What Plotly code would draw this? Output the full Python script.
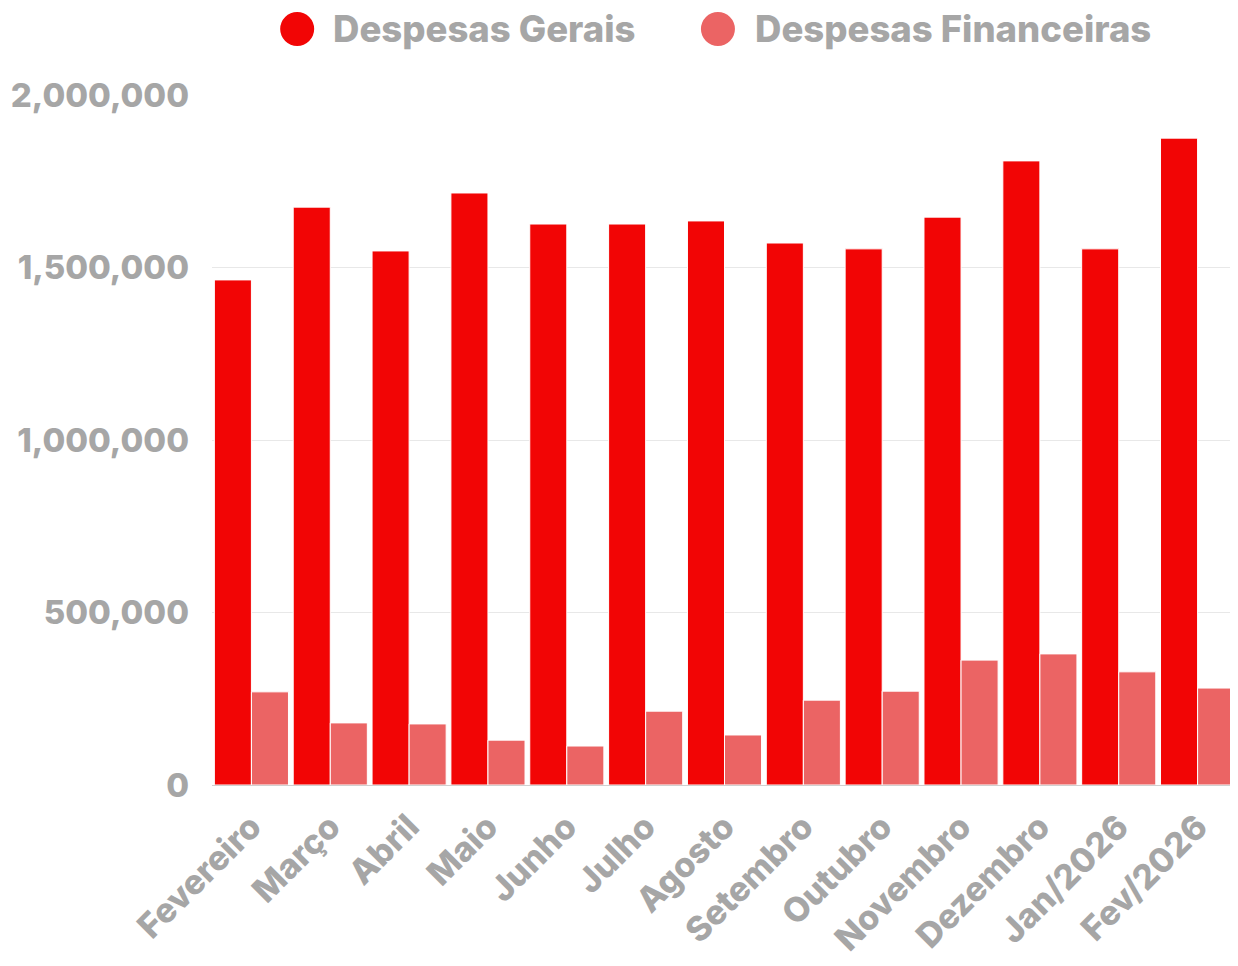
import plotly.graph_objects as go

categorias = ["Fevereiro", "Março", "Abril", "Maio", "Junho", "Julho", "Agosto",
              "Setembro", "Outubro", "Novembro", "Dezembro", "Jan/2026", "Fev/2026"]
despesas_gerais = [1464000, 1675000, 1548000, 1716000, 1626000, 1626000, 1635000,
                   1571000, 1554000, 1646000, 1809000, 1554000, 1875000]
despesas_financeiras = [270000, 180000, 177000, 130000, 113000, 214000, 145000,
                        246000, 272000, 362000, 380000, 328000, 281000]
series_nomes = ["Despesas Gerais", "Despesas Financeiras"]
y_ticks = [0, 500000, 1000000, 1500000, 2000000]

COR_GERAIS = "#F20505"
COR_FIN = "#EB6464"
CINZA = "#A6A6A6"
FONTE = "Inter"

fig = go.Figure()
fig.add_trace(go.Bar(x=categorias, y=despesas_gerais, name=series_nomes[0],
                     marker=dict(color=COR_GERAIS, line=dict(color="#ffffff", width=1)),
                     showlegend=False))
fig.add_trace(go.Bar(x=categorias, y=despesas_financeiras, name=series_nomes[1],
                     marker=dict(color=COR_FIN, line=dict(color="#ffffff", width=1)),
                     showlegend=False))

# custom legend (large circles)
legend_items = [(series_nomes[0], COR_GERAIS, 0.0831, 0.1163),
                (series_nomes[1], COR_FIN, 0.4936, 0.5279)]
ly = 1.0957
for nome, cor, cx, tx in legend_items:
    fig.add_shape(type="circle", xref="paper", yref="paper",
                  xsizemode="pixel", ysizemode="pixel",
                  xanchor=cx, yanchor=ly, x0=-17, x1=17, y0=-17, y1=17,
                  fillcolor=cor, line=dict(width=0))
    fig.add_annotation(x=tx, y=ly, xref="paper", yref="paper", text=nome,
                       showarrow=False, xanchor="left", yanchor="middle",
                       font=dict(family=FONTE, size=36.5, color=CINZA, weight=800))

fig.update_layout(
    width=1230, height=950,
    margin=dict(l=204, r=1, t=87, b=173),
    paper_bgcolor="#ffffff", plot_bgcolor="#ffffff",
    barmode="group", bargap=0.06, bargroupgap=0.0,
    font=dict(family=FONTE, color=CINZA),
)
fig.update_xaxes(tickangle=-45, tickfont=dict(family=FONTE, size=34, color=CINZA, weight=800),
                 showgrid=False, showline=False, ticks="", range=[-0.5, 12.5],
                 ticklabelstandoff=14)
fig.update_yaxes(range=[0, 2000000], tickvals=y_ticks, tickformat=",d",
                 tickfont=dict(family=FONTE, size=33, color=CINZA, weight=800),
                 showgrid=True, gridcolor="#E8E8E8", gridwidth=1,
                 zeroline=True, zerolinecolor="#D0D0D0", zerolinewidth=1,
                 ticks="", ticklabelstandoff=22, showline=False)

fig.write_html("out.html")
